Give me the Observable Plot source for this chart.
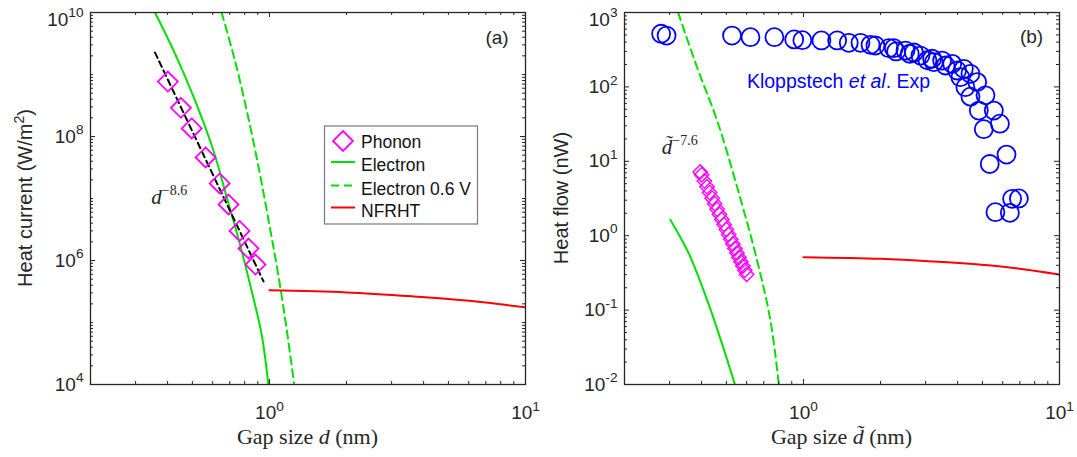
<!DOCTYPE html>
<html><head><meta charset="utf-8">
<script src="https://cdn.jsdelivr.net/npm/d3@7"></script>
<script src="https://cdn.jsdelivr.net/npm/@observablehq/plot@0.6"></script>
<style>
body{margin:0;background:#fff;}
#wrap{display:flex;width:1077px;height:457px;overflow:hidden;}
#wrap svg{display:block;flex:none;}
</style></head><body><div id="wrap"></div>
<script>
// ---------- data ----------
const xMajorTicks = [1, 10];
const yMajorTicksA = [1e4, 1e6, 1e8, 1e10];
const yMajorTicksB = [1e-2, 1e-1, 1, 10, 100, 1000];

// Panel (a)
const phononA_d = [0.401, 0.451, 0.497, 0.563, 0.639, 0.692, 0.764, 0.828, 0.882];
const phononA_q = [7.7e8, 2.9e8, 1.35e8, 4.6e7, 1.75e7, 8.0e6, 3.0e6, 1.56e6, 8.6e5];
const fitA_d = [0.357, 0.948];
const fitA_q = [2.27e9, 4.6e5];
const electronA_d = [0.358, 0.428, 0.512, 0.604, 0.681, 0.766, 0.851, 0.931, 0.990];
const electronA_q = [9.8e9, 2.15e9, 3.81e8, 5.94e7, 1.05e7, 1.86e6, 3.28e5, 6.6e4, 1.0e4];
const electron06A_d = [0.650, 0.733, 0.826, 0.917, 1.003, 1.081, 1.164, 1.247];
const electron06A_q = [1e10, 1.68e9, 2.05e8, 2.51e7, 3.45e6, 6.1e5, 8.4e4, 1.05e4];
const nfrhtA_d = [1.0, 2.0, 3.67, 5.0, 7.0, 10.0];
const nfrhtA_q = [3.3e5, 3.05e5, 2.63e5, 2.39e5, 2.10e5, 1.75e5];

// Panel (b)
const phononB_d = [0.395, 0.40, 0.41, 0.42, 0.43, 0.44, 0.45, 0.46, 0.47, 0.48, 0.49, 0.50, 0.51, 0.52, 0.53, 0.54, 0.55, 0.56, 0.57, 0.58, 0.59, 0.60];
const phononB_q = [7.2, 6.58, 5.45, 4.54, 3.80, 3.19, 2.69, 2.27, 1.93, 1.65, 1.41, 1.21, 1.04, 0.896, 0.775, 0.673, 0.585, 0.510, 0.446, 0.391, 0.343, 0.302];
const electronB_d = [0.302, 0.357, 0.421, 0.481, 0.539];
const electronB_q = [1.64, 0.571, 0.135, 0.0352, 0.0102];
const electron06B_d = [0.324, 0.384, 0.460, 0.551, 0.659, 0.743, 0.801];
const electron06B_q = [1000, 184, 35.3, 4.49, 0.465, 0.0724, 0.0102];
const nfrhtB_d = [1.0, 2.0, 3.22, 5.28, 7.0, 10.0];
const nfrhtB_q = [0.515, 0.49, 0.45, 0.40, 0.36, 0.30];
const expB_d = [0.278, 0.292, 0.526, 0.621, 0.770, 0.92, 0.99, 1.175, 1.354, 1.503, 1.670, 1.828, 1.910, 2.155, 2.254, 2.30, 2.503, 2.60, 2.70, 2.864, 3.05, 3.18, 3.23, 3.48, 3.59, 3.81, 3.98, 4.23, 4.10, 4.49, 4.29, 4.77, 4.49, 5.14, 4.84, 5.54, 5.06, 5.85, 5.34, 6.21, 5.62, 6.40, 6.53, 6.94];
const expB_q = [518, 490, 490, 466, 466, 435, 425, 421, 421, 391, 391, 368, 360, 331, 331, 300, 308, 279, 290, 264, 228, 239, 215, 226, 194, 204, 166, 175, 135, 150, 99, 116, 74, 77, 48, 48, 27, 32, 9.2, 12.3, 2.07, 2.03, 3.13, 3.17];

const zip = (xs, ys) => xs.map((x, i) => ({x, y: ys[i]}));

// ---------- styling ----------
const axisColor = "#262626";
const sans = "'Liberation Sans', Arial, Helvetica, sans-serif";
const serif = "'Liberation Serif', 'Times New Roman', serif";
const green = "#00e000", magenta = "#ff00ff", red = "#ff0000", blue = "#0000ff";

function minorTicks(lo, hi) {
  const out = [];
  for (let e = lo; e < hi; e++) for (let k = 2; k <= 9; k++) out.push(k * Math.pow(10, e));
  return out;
}

function tickRules(cfg, xMajor, xMinor, yMajor, yMinor) {
  const iw = cfg.w - cfg.ml - cfg.mr, ih = cfg.h - cfg.mt - cfg.mb;
  const M = 5, m = 3, st = {stroke: axisColor, strokeWidth: 1};
  return [
    Plot.ruleX(xMajor, {x: d => d, insetTop: ih - M, ...st}),
    Plot.ruleX(xMajor, {x: d => d, insetBottom: ih - M, ...st}),
    Plot.ruleX(xMinor, {x: d => d, insetTop: ih - m, ...st}),
    Plot.ruleX(xMinor, {x: d => d, insetBottom: ih - m, ...st}),
    Plot.ruleY(yMajor, {y: d => d, insetRight: iw - M, ...st}),
    Plot.ruleY(yMajor, {y: d => d, insetLeft: iw - M, ...st}),
    Plot.ruleY(yMinor, {y: d => d, insetRight: iw - m, ...st}),
    Plot.ruleY(yMinor, {y: d => d, insetLeft: iw - m, ...st})
  ];
}

const pow10 = d => "10^" + Math.round(Math.log10(d));

function axes(yTicks) {
  return [
    Plot.axisX({ticks: xMajorTicks, tickSize: 0, tickPadding: 21, tickFormat: pow10, label: null}),
    Plot.axisY({ticks: yTicks, tickSize: 0, tickPadding: 7, tickFormat: pow10, label: null})
  ];
}

const A = {w: 540, h: 457, mt: 12, mb: 73, ml: 90, mr: 15};
const B = {w: 537, h: 457, mt: 12, mb: 73, ml: 84, mr: 18};
const xMinor = [0.3, 0.4, 0.5, 0.6, 0.7, 0.8, 0.9, 2, 3, 4, 5, 6, 7, 8, 9];

const common = (cfg) => ({
  width: cfg.w, height: cfg.h,
  marginTop: cfg.mt, marginBottom: cfg.mb, marginLeft: cfg.ml, marginRight: cfg.mr,
  style: {fontFamily: sans, fontSize: "19px", color: axisColor, background: "#fff"},
  x: {type: "log", domain: [0.2, 10]}
});

const yMinorA = minorTicks(4, 10).concat([1e5, 1e7, 1e9]);
const plotA = Plot.plot({
  ...common(A),
  y: {type: "log", domain: [1e4, 1e10]},
  marks: [
    Plot.line(zip(electronA_d, electronA_q), {x: "x", y: "y", stroke: green, strokeWidth: 2, curve: "catmull-rom", clip: true}),
    Plot.line(zip(electron06A_d, electron06A_q), {x: "x", y: "y", stroke: green, strokeWidth: 2, strokeDasharray: "8,5", curve: "catmull-rom", clip: true}),
    Plot.line(zip(nfrhtA_d, nfrhtA_q), {x: "x", y: "y", stroke: red, strokeWidth: 2, curve: "catmull-rom", clip: true}),
    Plot.line(zip(fitA_d, fitA_q), {x: "x", y: "y", stroke: "#000", strokeWidth: 2, strokeDasharray: "6,4"}),
    Plot.dot(zip(phononA_d, phononA_q), {x: "x", y: "y", symbol: "diamond2", r: 9, stroke: magenta, strokeWidth: 1.8, fill: "none"}),
    Plot.frame({stroke: axisColor, strokeWidth: 1.3}),
    ...tickRules(A, xMajorTicks, xMinor, yMajorTicksA, yMinorA),
    ...axes(yMajorTicksA)
  ]
});

const yMinorB = minorTicks(-2, 3);
const plotB = Plot.plot({
  ...common(B),
  y: {type: "log", domain: [1e-2, 1e3]},
  marks: [
    Plot.line(zip(electronB_d, electronB_q), {x: "x", y: "y", stroke: green, strokeWidth: 2, curve: "catmull-rom", clip: true}),
    Plot.line(zip(electron06B_d, electron06B_q), {x: "x", y: "y", stroke: green, strokeWidth: 2, strokeDasharray: "8,5", curve: "catmull-rom", clip: true}),
    Plot.line(zip(nfrhtB_d, nfrhtB_q), {x: "x", y: "y", stroke: red, strokeWidth: 2, curve: "catmull-rom", clip: true}),
    Plot.dot(zip(phononB_d, phononB_q), {x: "x", y: "y", symbol: "diamond2", r: 6.5, stroke: magenta, strokeWidth: 1.4, fill: "none"}),
    Plot.dot(zip(expB_d, expB_q), {x: "x", y: "y", symbol: "circle", r: 9, stroke: blue, strokeWidth: 1.8, fill: "none"}),
    Plot.frame({stroke: axisColor, strokeWidth: 1.3}),
    ...tickRules(B, xMajorTicks, xMinor, yMajorTicksB, yMinorB),
    ...axes(yMajorTicksB)
  ]
});

const wrap = document.getElementById("wrap");
wrap.append(plotA, plotB);

// ---------- post-processing: superscripts, labels, annotations ----------
function superscriptTicks(svg, topLabel) {
  // topmost y label sits slightly lower so it stays inside the figure (as in the reference)
  d3.select(svg).selectAll('g[aria-label="y-axis tick label"] text').each(function () {
    if (this.textContent === topLabel) {
      const tr = this.getAttribute("transform") || "";
      this.setAttribute("transform", (tr + " translate(0,7)").trim());
    }
  });
  d3.select(svg).selectAll('g[aria-label="x-axis tick label"] text, g[aria-label="y-axis tick label"] text').each(function () {
    const t = d3.select(this);
    const s = t.text();
    if (!s.includes("^")) return;
    const [b, e] = s.split("^");
    t.text(null);
    t.append("tspan").text(b);
    t.append("tspan").attr("font-size", "0.72em").attr("dy", "-0.62em").text(e);
  });
}
superscriptTicks(plotA, pow10(yMajorTicksA[yMajorTicksA.length - 1]));
superscriptTicks(plotB, pow10(yMajorTicksB[yMajorTicksB.length - 1]));

function richText(g, x, y, parts, opts = {}) {
  const t = g.append("text").attr("x", x).attr("y", y)
    .attr("font-family", opts.family || sans).attr("font-size", opts.size || 19)
    .attr("fill", opts.fill || axisColor).attr("text-anchor", opts.anchor || "start");
  if (opts.transform) t.attr("transform", opts.transform);
  for (const p of parts) {
    const ts = t.append("tspan").text(p.t);
    if (p.italic) ts.attr("font-style", "italic");
    if (p.family) ts.attr("font-family", p.family);
    if (p.size) ts.attr("font-size", p.size);
    if (p.dy) ts.attr("dy", p.dy);
  }
  return t;
}

// Panel (a) overlays
{
  const g = d3.select(plotA);
  const sx = plotA.scale("x"), sy = plotA.scale("y");
  richText(g, 0, 0, [
    {t: "Heat current (W/m"}, {t: "2", size: 14, dy: -8}, {t: ")", dy: 8}
  ], {size: 20, anchor: "middle", transform: "translate(32,198) rotate(-90)"});
  richText(g, 307.5, 444, [
    {t: "Gap size "}, {t: "d", italic: true}, {t: " (nm)"}
  ], {family: serif, size: 22, anchor: "middle"});
  richText(g, sx.apply(0.347), sy.apply(8e6), [
    {t: "d", italic: true}, {t: "\u22128.6", size: 14, dy: -9}
  ], {family: serif, size: 21});
  richText(g, sx.apply(7.78), sy.apply(3.05e9), [{t: "(a)"}], {size: 19, anchor: "middle"});

  // legend
  const lg = g.append("g").attr("text-anchor", "start");
  lg.append("rect").attr("x", 324.5).attr("y", 126).attr("width", 153).attr("height", 98)
    .attr("fill", "#fff").attr("stroke", "#7a7a7a").attr("stroke-width", 1.2);
  const rows = [
    {label: "Phonon", y: 142, type: "diamond"},
    {label: "Electron", y: 165, type: "line", stroke: green},
    {label: "Electron 0.6 V", y: 188.5, type: "line", stroke: green, dash: "8,5"},
    {label: "NFRHT", y: 210.5, type: "line", stroke: red}
  ];
  for (const r of rows) {
    if (r.type === "diamond") {
      lg.append("path").attr("d", d3.symbol(d3.symbolDiamond2, Math.PI * 81)()).attr("transform", `translate(343,${r.y - 1})`)
        .attr("fill", "none").attr("stroke", magenta).attr("stroke-width", 1.8);
    } else {
      lg.append("line").attr("x1", 331).attr("x2", 355).attr("y1", r.y - 3).attr("y2", r.y - 3)
        .attr("stroke", r.stroke).attr("stroke-width", 2).attr("stroke-dasharray", r.dash || null);
    }
    lg.append("text").attr("x", 361).attr("y", r.y + 6).attr("text-anchor", "start")
      .attr("font-family", sans).attr("font-size", 17.5).attr("fill", "#111").text(r.label);
  }
}

// Panel (b) overlays
{
  const g = d3.select(plotB);
  const sx = plotB.scale("x"), sy = plotB.scale("y");
  richText(g, 0, 0, [{t: "Heat flow (nW)"}], {size: 20, anchor: "middle", transform: "translate(28,198) rotate(-90)"});
  richText(g, 301.5, 444, [
    {t: "Gap size "}, {t: "d\u0303", italic: true}, {t: " (nm)"}
  ], {family: serif, size: 22, anchor: "middle"});
  richText(g, sx.apply(0.281), sy.apply(12.3), [
    {t: "d\u0303", italic: true}, {t: "\u22127.6", size: 14, dy: -9}
  ], {family: serif, size: 21});
  richText(g, sx.apply(0.604), sy.apply(95), [
    {t: "Kloppstech "}, {t: "et al", italic: true}, {t: ". Exp"}
  ], {size: 19.5, fill: blue});
  richText(g, sx.apply(7.81), sy.apply(383), [{t: "(b)"}], {size: 19, anchor: "middle"});
}
</script>
</body></html>
